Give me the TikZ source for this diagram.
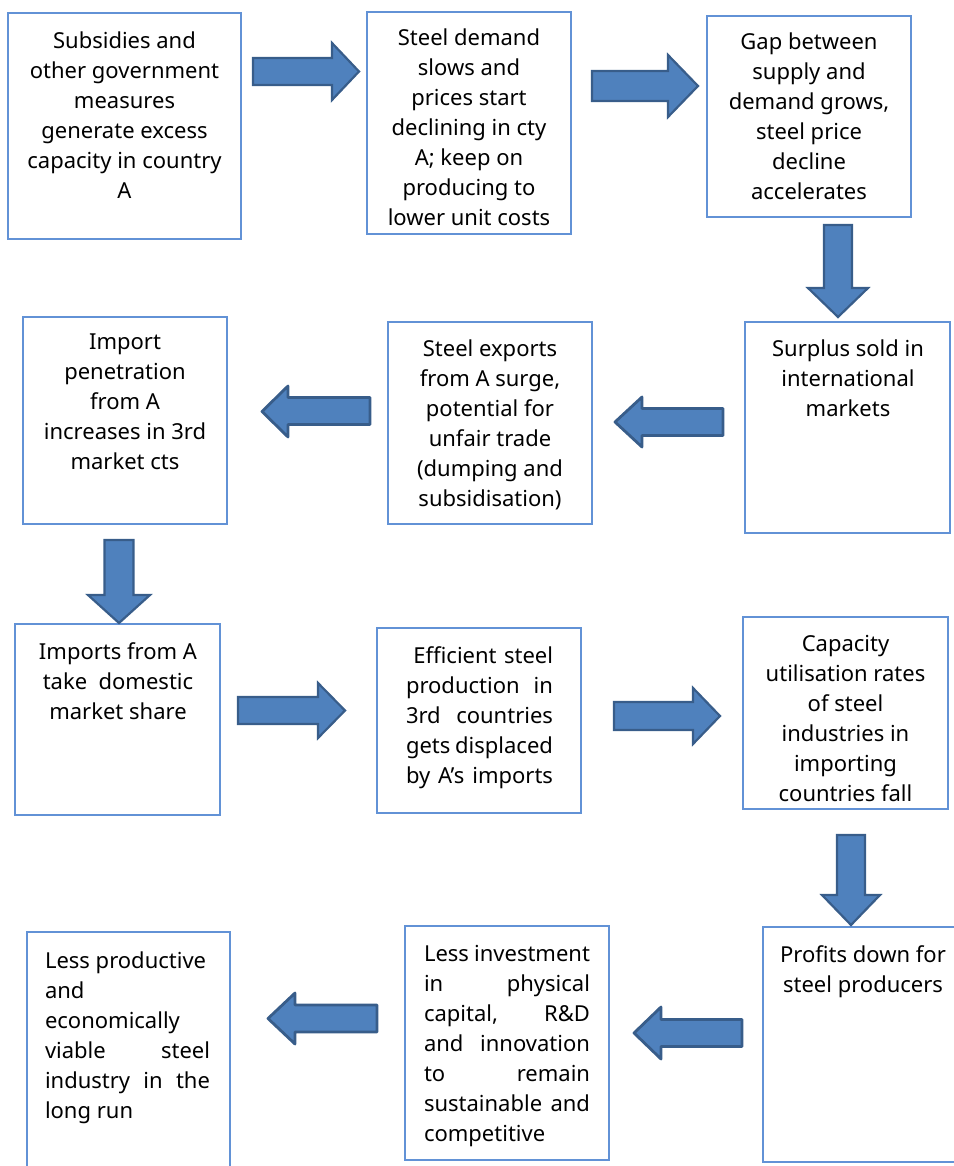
\documentclass[tikz,border=0pt]{standalone}
\usepackage{fontspec}
\setmainfont{Noto Sans}
\definecolor{boxline}{RGB}{98,146,214}
\definecolor{arrfill}{RGB}{79,129,189}
\definecolor{arrline}{RGB}{56,93,138}
\tikzset{
  box/.style={draw=boxline, line width=1.1pt, anchor=north west, inner sep=0pt, outer sep=0pt},
  txt/.style={anchor=north, inner sep=0pt, align=center, font=\fontsize{22}{30}\selectfont},
  jtxt/.style={txt, align=left},
  barrow/.style={fill=arrfill, draw=arrline, line width=2.2pt},
  larrow/.style={fill=arrfill, draw=arrline, line width=2.8pt, line join=round},
}
\newcommand{\jline}[2]{\makebox[#1][s]{#2}}
\begin{document}
\begin{tikzpicture}[x=1pt, y=-1pt]
\useasboundingbox (0,0) rectangle (953,1166);
% boxes
\node[box, minimum width=233pt, minimum height=226pt] (b1) at (8,13) {};
\node[box, minimum width=204pt, minimum height=222pt] (b2) at (367,12) {};
\node[box, minimum width=204pt, minimum height=201pt] (b3) at (707,16) {};
\node[box, minimum width=205pt, minimum height=211pt] (b4) at (745,322) {};
\node[box, minimum width=204pt, minimum height=202pt] (b5) at (388,322) {};
\node[box, minimum width=204pt, minimum height=207pt] (b6) at (23,317) {};
\node[box, minimum width=205pt, minimum height=191pt] (b7) at (15,624) {};
\node[box, minimum width=204pt, minimum height=185pt] (b8) at (377,628) {};
\node[box, minimum width=205pt, minimum height=192pt] (b9) at (743,617) {};
\node[box, minimum width=200pt, minimum height=235pt] (b10) at (763,927) {};
\node[box, minimum width=204pt, minimum height=234pt] (b11) at (405,926) {};
\node[box, minimum width=203pt, minimum height=250pt] (b12) at (27,932) {};
% texts
\node[txt] (t1) at (124.5,32) {Subsidies and\\other government\\measures\\generate excess\\capacity in country\\A};
\node[txt] (t2) at (469,29) {Steel demand\\slows and\\prices start\\declining in cty\\A; keep on\\producing to\\lower unit costs};
\node[txt] (t3) at (809,33) {Gap between\\supply and\\demand grows,\\steel price\\decline\\accelerates};
\node[txt] (t4) at (848,340) {Surplus sold in\\international\\markets};
\node[txt] (t5) at (490,340) {Steel exports\\from A surge,\\potential for\\unfair trade\\(dumping and\\subsidisation)};
\node[txt] (t6) at (125,334) {Import\\penetration\\from A\\increases in 3rd\\market cts};
\node[txt] (t7) at (118,642) {Imports from A\\take\ \ domestic\\market share};
\node[jtxt] (t8) at (479.5,646) {\jline{147pt}{\ Efficient steel}\\\jline{147pt}{production in}\\\jline{147pt}{3rd countries}\\\jline{147pt}{gets displaced}\\\jline{147pt}{by A’s imports}};
\node[txt] (t9) at (845.5,635) {Capacity\\utilisation rates\\of steel\\industries in\\importing\\countries fall};
\node[txt] (t10) at (863,945) {Profits down for\\steel producers};
\node[jtxt] (t11) at (507,945) {\jline{166pt}{Less investment}\\\jline{166pt}{in physical}\\\jline{166pt}{capital, R\&D}\\\jline{166pt}{and innovation}\\\jline{166pt}{to remain}\\\jline{166pt}{sustainable and}\\competitive};
\node[jtxt] (t12) at (127.5,952) {Less productive\\and\\economically\\\jline{165pt}{viable steel}\\\jline{165pt}{industry in the}\\long run};
% block arrows
\draw[barrow] (253,58) -- (332,58) -- (332,43) -- (359,71.5) -- (332,100) -- (332,85) -- (253,85) -- cycle;
\draw[barrow] (592,71) -- (668,71) -- (668,55) -- (698,86) -- (668,117) -- (668,101) -- (592,101) -- cycle;
\draw[barrow] (824,225) -- (852,225) -- (852,288) -- (868,288) -- (838,317) -- (808,288) -- (824,288) -- cycle;
\draw[larrow] (723,408.5) -- (642,408.5) -- (642,397) -- (615,422) -- (642,447) -- (642,435.5) -- (723,435.5) -- cycle;
\draw[larrow] (370,397.5) -- (288,397.5) -- (288,386) -- (262,411.5) -- (288,437) -- (288,424.5) -- (370,424.5) -- cycle;
\draw[barrow] (104.5,540) -- (133.5,540) -- (133.5,595) -- (150,595) -- (119,623) -- (88,595) -- (104.5,595) -- cycle;
\draw[barrow] (238,697) -- (318,697) -- (318,683) -- (345,710.5) -- (318,738) -- (318,724) -- (238,724) -- cycle;
\draw[barrow] (614,702) -- (693,702) -- (693,688) -- (720,716) -- (693,744) -- (693,730) -- (614,730) -- cycle;
\draw[barrow] (837,835) -- (865,835) -- (865,895) -- (880,895) -- (851,925) -- (822,895) -- (837,895) -- cycle;
\draw[larrow] (742,1019.5) -- (661,1019.5) -- (661,1007) -- (634,1033) -- (661,1059) -- (661,1046.5) -- (742,1046.5) -- cycle;
\draw[larrow] (377,1005) -- (295,1005) -- (295,993) -- (268,1018.5) -- (295,1044) -- (295,1032) -- (377,1032) -- cycle;
\end{tikzpicture}
\end{document}
